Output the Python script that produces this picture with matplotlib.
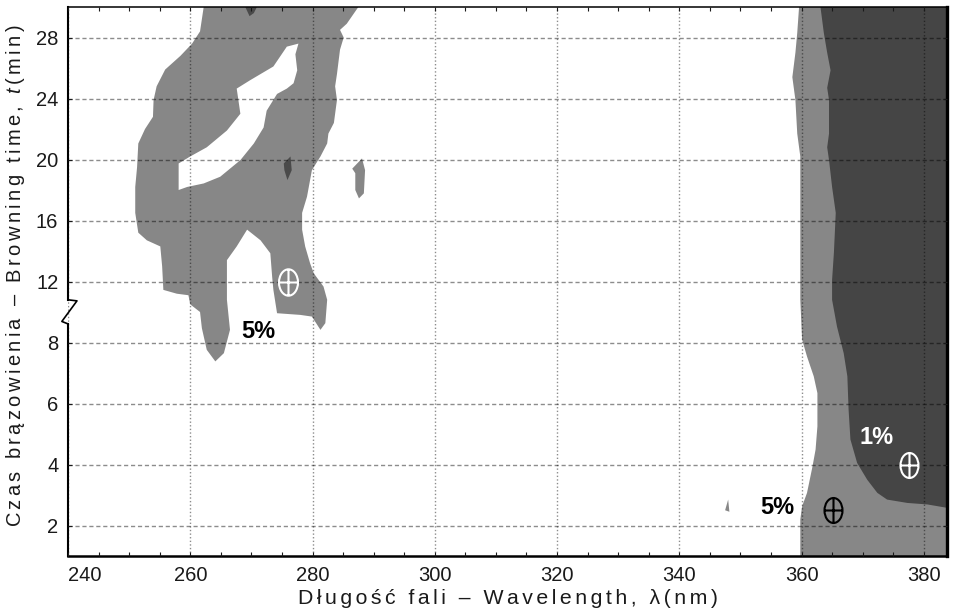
import numpy as np
import matplotlib
matplotlib.use('Agg')
import matplotlib.pyplot as plt
from matplotlib.path import Path
from matplotlib.transforms import blended_transform_factory

plt.rcParams['font.family'] = ['Liberation Sans', 'DejaVu Sans']
plt.rcParams['mathtext.fontset'] = 'custom'
plt.rcParams['mathtext.rm'] = 'Liberation Sans'
plt.rcParams['mathtext.it'] = 'Liberation Sans:italic'

# --- data (wavelength nm, browning time min) ---
# 5% region, left blob (outer outline)
blob_nm = [262.2, 261.6, 260.3, 258.4, 255.9, 254.5, 254.0, 253.9, 252.6, 251.5,
           251.3, 251.0, 251.0, 251.5, 252.9, 255.1, 255.4, 255.6, 257.8, 259.7,
           260.0, 261.6, 261.9, 262.7, 264.1, 265.5, 266.5, 266.0, 266.0, 267.6,
           269.3, 271.5, 273.1, 273.4, 273.6, 274.2, 278.0, 279.9, 281.3, 282.1,
           282.4, 281.8, 280.2, 279.6, 278.8, 278.3, 278.3, 279.1, 279.9, 281.3,
           282.4, 282.6, 283.5, 284.0, 283.7, 284.0, 284.5, 285.1, 284.5, 285.6,
           287.5]
blob_min = [30.0, 28.4, 27.6, 26.8, 25.9, 24.8, 23.9, 22.8, 22.0, 21.05,
            19.5, 18.2, 16.5, 15.2, 14.7, 14.3, 13.0, 11.45, 11.2, 11.1,
            10.5, 10.0, 8.94, 7.76, 7.38, 7.65, 8.83, 10.8, 13.4, 14.3,
            15.4, 14.7, 13.85, 12.3, 11.45, 9.92, 9.81, 9.7, 8.83, 9.27,
            10.8, 11.67, 12.54, 13.2, 14.3, 15.4, 16.5, 17.56, 19.3, 20.2,
            21.05, 21.7, 22.4, 23.9, 24.8, 25.6, 27.2, 28.0, 28.5, 28.9,
            30.0]
# white hole inside the blob
hole_nm = [258.1, 260.0, 262.7, 266.0, 268.2, 267.6, 269.8, 273.6, 275.8, 277.7,
           277.2, 277.5, 276.9, 275.8, 274.2, 272.5, 272.0, 270.4, 268.2, 264.9,
           262.2, 259.5, 258.1]
hole_min = [19.74, 20.2, 20.8, 21.9, 23.0, 24.65, 25.2, 26.1, 27.4, 27.6,
            26.9, 25.85, 25.0, 24.65, 24.3, 23.2, 22.1, 21.05, 19.96, 18.87,
            18.43, 18.2, 18.0]
# small 1% spots inside the blob
spot1_nm = [275.3, 276.4, 276.6, 275.9, 275.4]
spot1_min = [19.74, 20.2, 19.3, 18.65, 19.3]
spot2_nm = [269.0, 270.9, 270.4, 269.7]
spot2_min = [30.0, 30.0, 29.6, 29.4]
# small 5% islands
isle_nm = [286.5, 288.1, 288.6, 288.4, 287.6, 287.0, 287.0]
isle_min = [19.4, 20.07, 19.3, 17.78, 17.45, 18.0, 19.1]
speck_nm = [347.5, 348.0, 348.2]
speck_min = [2.5, 2.85, 2.45]

# right side: 5% boundary and 1% boundary
right5_nm = [359.6, 359.3, 359.0, 358.5, 359.0, 359.3, 359.8, 359.8, 359.8, 360.1,
             360.9, 362.0, 362.6, 362.6, 362.3, 361.8, 360.9, 360.1, 359.8, 359.8]
right5_min = [30.0, 28.3, 27.0, 25.4, 23.9, 21.7, 20.2, 16.5, 10.8, 8.18,
              7.54, 6.89, 6.34, 5.25, 4.49, 3.94, 3.07, 2.63, 2.2, 1.0]
right1_nm = [363.1, 363.65, 364.2, 364.75, 364.2, 364.5, 364.5, 364.2, 364.5, 365.0,
             365.6, 365.3, 365.0, 365.0, 365.8, 366.9, 367.5, 367.7, 368.0, 369.1,
             370.75, 372.4, 374.0, 377.3, 380.6, 383.8]
right1_min = [30.0, 28.3, 27.0, 25.85, 24.7, 23.9, 21.7, 20.8, 19.96, 18.2,
              16.5, 13.9, 12.1, 10.8, 9.05, 7.65, 6.89, 5.8, 4.82, 4.05,
              3.5, 3.07, 2.85, 2.74, 2.69, 2.58]

# optimum markers
opt_nm = [276.0, 365.2, 377.6]
opt_min = [12.0, 2.5, 4.0]

# labels
lab_text = ['5%', '5%', '1%']
lab_nm = [271.2, 356.1, 372.2]
lab_min = [8.72, 2.58, 4.87]

x_major = [240, 260, 280, 300, 320, 340, 360, 380]
y_ticks = [2, 4, 6, 8, 12, 16, 20, 24, 28]
x_lim = (240, 383.8)
y_lim = (1, 30)

LIGHT = '#878787'
DARK = '#454545'


def fwd(t):
    t = np.asarray(t, dtype=float)
    return np.where(t <= 8, t, 8 + (t - 8) / 2.0)


def inv(y):
    y = np.asarray(y, dtype=float)
    return np.where(y <= 8, y, 8 + 2.0 * (y - 8))


fig = plt.figure(figsize=(9.55, 6.16), dpi=100)
ax = fig.add_axes([68 / 955, 1 - 556 / 616, 879 / 955, 549 / 616])
ax.set_yscale('function', functions=(fwd, inv))
ax.set_xlim(*x_lim)
ax.set_ylim(*y_lim)

# filled regions
ax.fill(right5_nm + [x_lim[1], x_lim[1]], right5_min + [y_lim[0], y_lim[1]],
        color=LIGHT, lw=0, zorder=1)
ax.fill(right1_nm + [x_lim[1]], right1_min + [y_lim[1]], color=DARK, lw=0, zorder=1.1)
ax.fill(blob_nm, blob_min, color=LIGHT, lw=0, zorder=1)
ax.fill(hole_nm, hole_min, color='white', lw=0, zorder=1.1)
ax.fill(spot1_nm, spot1_min, color='#4a4a4a', lw=0, zorder=1.2)
ax.fill(spot2_nm, spot2_min, color='#4a4a4a', lw=0, zorder=1.2)
ax.fill(isle_nm, isle_min, color=LIGHT, lw=0, zorder=1)
ax.fill(speck_nm, speck_min, color=LIGHT, lw=0, zorder=1)

# grid
ax.set_axisbelow(False)
ax.set_xticks(x_major)
ax.set_xticks(np.arange(240, 384, 5), minor=True)
ax.set_yticks(y_ticks)
ax.set_yticks([], minor=True)
ax.set_yticklabels([str(v) for v in y_ticks])
ax.xaxis.grid(True, which='major', color='k', alpha=0.45, lw=1.0, ls=(0, (1, 1.6)))
ax.yaxis.grid(True, which='major', color='k', alpha=0.45, lw=1.0, ls=(0, (3, 2)))

ax.tick_params(which='both', direction='in', length=3, width=0.8, top=True, right=True,
               labelsize=14.5, pad=7, colors='#1a1a1a')
ax.xaxis.get_majorticklabels()[0].set_horizontalalignment('left')

# spines
ax.spines['left'].set_visible(False)
ax.spines['bottom'].set_linewidth(1.8)
ax.spines['right'].set_linewidth(2.4)
ax.spines['top'].set_linewidth(1.1)
trans = blended_transform_factory(ax.transAxes, ax.transData)
ax.plot([0, 0], [y_lim[0], 9.22], transform=trans, color='k', lw=1.5, clip_on=False)
ax.plot([0, 0.0102, -0.007, 0], [10.8, 10.73, 9.38, 9.22], transform=trans,
        color='k', lw=1.2, clip_on=False)
ax.plot([0, 0], [10.8, y_lim[1]], transform=trans, color='k', lw=1.5, clip_on=False)

# optimum markers
ell = Path.unit_circle()
cross = Path([(-0.72, 0), (0.72, 0), (0, -1), (0, 1)],
             [Path.MOVETO, Path.LINETO, Path.MOVETO, Path.LINETO])
oplus = Path.make_compound_path(Path(ell.vertices * [0.72, 1.0], ell.codes), cross)
mcol = ['white', 'black', 'white']
msz = [19, 18, 18]
for i in range(len(opt_nm)):
    ax.plot([opt_nm[i]], [opt_min[i]], ls='none', marker=oplus, ms=msz[i],
            mfc='none', mec=mcol[i], mew=1.5, zorder=4)

tcol = ['black', 'black', 'white']
for i in range(len(lab_text)):
    ax.text(lab_nm[i], lab_min[i], lab_text[i], ha='center', va='center',
            fontsize=17, fontweight='bold', color=tcol[i], zorder=4)

sp = '\u2006'
xlab = sp.join('Długość fali – Wavelength, λ(nm)')
ylab = sp.join('Czas brązowienia – Browning time, ') + sp + '$t$' + sp + sp.join('(min)')
ax.set_xlabel(xlab, fontsize=15.3, labelpad=3, color='#1a1a1a')
ax.set_ylabel(ylab, fontsize=14.5, color='#1a1a1a')
ax.yaxis.set_label_coords(-0.047, 0.51)

fig.savefig('out.png', dpi=100)
